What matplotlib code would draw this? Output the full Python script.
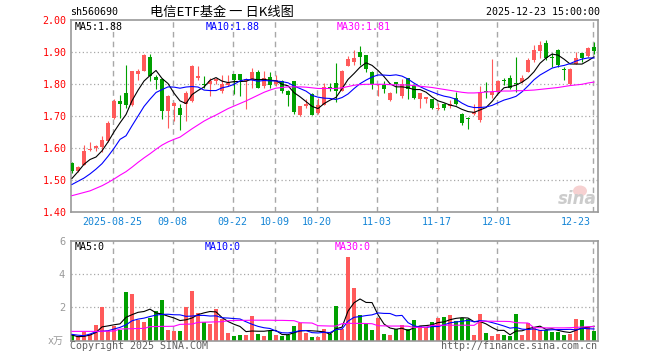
import numpy as np
import pandas as pd
import matplotlib
matplotlib.use("Agg")
import matplotlib.pyplot as plt
from matplotlib.patches import Ellipse

W, H = 660, 360

# daily candles, 2025-08-14 .. 2025-12-23 (88 trading days)
open_ = [1.554, 1.530, 1.549, 1.595, 1.601, 1.604, 1.622, 1.695, 1.748, 1.773,
         1.734, 1.832, 1.843, 1.884, 1.822, 1.815, 1.716, 1.731, 1.726, 1.739,
         1.747, 1.820, 1.800, 1.800, 1.809, 1.780, 1.799, 1.832, 1.832, 1.809,
         1.812, 1.838, 1.794, 1.822, 1.800, 1.809, 1.780, 1.810, 1.703, 1.733,
         1.770, 1.710, 1.736, 1.791, 1.804, 1.780, 1.858, 1.869, 1.901, 1.891,
         1.839, 1.797, 1.797, 1.752, 1.807, 1.763, 1.820, 1.794, 1.755, 1.755,
         1.755, 1.724, 1.737, 1.732, 1.756, 1.707, 1.695, 1.707, 1.690, 1.778,
         1.766, 1.775, 1.812, 1.819, 1.805, 1.808, 1.839, 1.876, 1.904, 1.928,
         1.886, 1.907, 1.846, 1.800, 1.865, 1.897, 1.890, 1.918]
high = [1.556, 1.546, 1.609, 1.619, 1.611, 1.639, 1.684, 1.755, 1.767, 1.861,
        1.843, 1.848, 1.895, 1.896, 1.830, 1.820, 1.768, 1.745, 1.739, 1.778,
        1.859, 1.858, 1.825, 1.820, 1.820, 1.830, 1.830, 1.832, 1.832, 1.820,
        1.850, 1.846, 1.840, 1.838, 1.830, 1.812, 1.783, 1.810, 1.732, 1.755,
        1.773, 1.757, 1.804, 1.804, 1.867, 1.846, 1.890, 1.906, 1.919, 1.893,
        1.843, 1.800, 1.811, 1.776, 1.807, 1.818, 1.820, 1.800, 1.773, 1.760,
        1.755, 1.742, 1.743, 1.751, 1.775, 1.711, 1.699, 1.740, 1.795, 1.806,
        1.879, 1.813, 1.820, 1.829, 1.886, 1.829, 1.881, 1.923, 1.935, 1.938,
        1.897, 1.910, 1.855, 1.850, 1.900, 1.899, 1.918, 1.931]
low = [1.522, 1.526, 1.547, 1.592, 1.593, 1.589, 1.620, 1.693, 1.694, 1.726,
       1.732, 1.815, 1.841, 1.811, 1.786, 1.693, 1.664, 1.686, 1.658, 1.686,
       1.745, 1.815, 1.790, 1.763, 1.800, 1.773, 1.794, 1.770, 1.762, 1.724,
       1.788, 1.787, 1.790, 1.789, 1.794, 1.773, 1.731, 1.707, 1.700, 1.726,
       1.703, 1.707, 1.734, 1.778, 1.745, 1.778, 1.856, 1.861, 1.861, 1.839,
       1.786, 1.762, 1.773, 1.749, 1.773, 1.757, 1.755, 1.755, 1.726, 1.742,
       1.724, 1.720, 1.720, 1.725, 1.735, 1.673, 1.659, 1.704, 1.681, 1.756,
       1.756, 1.772, 1.798, 1.785, 1.775, 1.803, 1.837, 1.871, 1.881, 1.876,
       1.855, 1.855, 1.813, 1.798, 1.862, 1.871, 1.886, 1.894]
close = [1.528, 1.541, 1.591, 1.598, 1.606, 1.625, 1.679, 1.749, 1.739, 1.736,
         1.841, 1.842, 1.893, 1.825, 1.815, 1.716, 1.763, 1.742, 1.705, 1.773,
         1.856, 1.827, 1.797, 1.810, 1.815, 1.801, 1.804, 1.812, 1.812, 1.818,
         1.838, 1.790, 1.820, 1.797, 1.812, 1.780, 1.768, 1.713, 1.732, 1.737,
         1.705, 1.734, 1.790, 1.786, 1.780, 1.841, 1.879, 1.882, 1.885, 1.849,
         1.801, 1.799, 1.786, 1.773, 1.801, 1.801, 1.786, 1.757, 1.773, 1.760,
         1.726, 1.726, 1.727, 1.737, 1.738, 1.680, 1.692, 1.714, 1.775, 1.776,
         1.775, 1.810, 1.810, 1.790, 1.802, 1.821, 1.876, 1.907, 1.923, 1.883,
         1.883, 1.860, 1.844, 1.848, 1.881, 1.883, 1.912, 1.904]
# volume, x万
volume = [0.34, 0.26, 0.54, 0.39, 0.94, 2.01, 0.56, 0.88, 0.66, 2.91,
          2.80, 1.26, 1.13, 1.37, 1.78, 2.44, 0.64, 0.59, 0.59, 2.01,
          2.98, 1.66, 1.11, 1.00, 1.89, 1.29, 0.47, 0.28, 0.34, 0.34,
          1.48, 0.40, 0.28, 0.56, 0.34, 0.28, 0.34, 0.88, 1.09, 0.45,
          0.21, 0.21, 0.69, 0.40, 2.08, 0.68, 5.04, 3.18, 1.54, 1.04,
          0.64, 1.38, 0.40, 0.34, 0.68, 0.94, 0.68, 1.24, 0.88, 0.80,
          1.14, 1.38, 1.44, 1.54, 1.20, 1.34, 1.28, 0.34, 1.60, 0.48,
          0.28, 0.40, 0.34, 0.28, 1.60, 0.34, 1.04, 0.74, 0.64, 0.64,
          0.54, 0.54, 0.34, 0.40, 1.30, 1.24, 0.80, 0.60]

# moving averages: start of window lies before the first shown day
ma5_head = [1.506, 1.527, 1.550, 1.565]
ma10_head = [1.487, 1.497, 1.507, 1.520, 1.535, 1.552, 1.575, 1.600, 1.628]
ma30 = [1.452, 1.457, 1.462, 1.467, 1.475, 1.483, 1.493, 1.504, 1.516, 1.527,
        1.541, 1.556, 1.570, 1.583, 1.597, 1.610, 1.620, 1.628, 1.635, 1.648,
        1.661, 1.673, 1.685, 1.695, 1.704, 1.714, 1.724, 1.732, 1.740, 1.748,
        1.757, 1.766, 1.775, 1.782, 1.788, 1.790, 1.792, 1.792, 1.792, 1.791,
        1.789, 1.787, 1.787, 1.787, 1.787, 1.789, 1.793, 1.797, 1.799, 1.800,
        1.800, 1.800, 1.800, 1.799, 1.798, 1.798, 1.798, 1.796, 1.794, 1.792,
        1.790, 1.787, 1.784, 1.781, 1.778, 1.775, 1.773, 1.773, 1.774, 1.776,
        1.777, 1.778, 1.779, 1.779, 1.780, 1.780, 1.781, 1.782, 1.784, 1.786,
        1.788, 1.790, 1.793, 1.796, 1.798, 1.800, 1.804, 1.807]
vol_ma5_head = [0.34, 0.24, 0.26, 0.34]
vol_ma10_head = [0.38, 0.33, 0.30, 0.40, 0.54, 0.57, 0.60, 0.70, 0.80]
vol_ma30 = [0.56, 0.56, 0.56, 0.56, 0.56, 0.57, 0.57, 0.58, 0.70, 0.71,
            0.72, 0.73, 0.74, 0.84, 0.85, 0.86, 0.86, 0.87, 0.98, 0.99,
            1.00, 1.10, 1.11, 1.12, 1.13, 1.14, 1.20, 1.21, 1.22, 1.22,
            1.23, 1.23, 1.23, 1.23, 1.22, 1.22, 1.21, 1.20, 1.08, 1.07,
            1.06, 0.90, 0.89, 0.88, 0.88, 1.02, 1.04, 1.04, 1.04, 1.03,
            1.02, 0.90, 0.89, 0.88, 0.88, 0.88, 0.87, 0.80, 0.80, 0.80,
            0.92, 0.92, 0.93, 0.93, 0.93, 0.93, 0.93, 0.92, 1.16, 1.17,
            1.17, 1.16, 1.16, 1.15, 1.08, 1.07, 1.06, 0.78, 0.78, 0.77,
            0.77, 0.77, 0.77, 0.78, 0.80, 0.82, 0.84, 0.85]

tick_idx = [7, 17, 27, 34, 41, 51, 61, 71, 87]
tick_labels = ["2025-08-25", "09-08", "09-22", "10-09", "10-20",
               "11-03", "11-17", "12-01", "12-23"]

RED = "#FF5A5A"
GREEN = "#00A000"
GRID = "#A8A8A8"
FRAME = "#999999"

plt.rcParams["font.family"] = ["DejaVu Sans Mono", "Noto Sans CJK SC"]


def ma(values, n, head):
    s = pd.Series(values).rolling(n).mean()
    s.iloc[:len(head)] = head
    return s.values


def px_axes(fig, left, top, right, bottom):
    return fig.add_axes([left / W, 1 - bottom / H, (right - left) / W, (bottom - top) / H])


x = np.arange(len(close))
o, h, l, c = map(np.array, (open_, high, low, close))
up = c >= o
colors = np.where(up, RED, GREEN)
xlim = (-0.22, 87.58)
grid_x = [i - 0.22 for i in tick_idx]

fig = plt.figure(figsize=(W / 100, H / 100), dpi=100)

# ---- price panel
ax = px_axes(fig, 70.7, 20.3, 597.5, 212.3)
ax.set_xlim(*xlim)
ax.set_ylim(1.40, 2.00)
for gx in grid_x:
    ax.axvline(gx, color=GRID, lw=1, ls=(0, (4, 3)), zorder=0)
for gy in [1.5, 1.6, 1.7, 1.8, 1.9]:
    ax.axhline(gy, color=GRID, lw=0.9, ls=(0, (1, 2)), zorder=0)

ax.vlines(x, l, h, colors=colors, lw=0.8, zorder=2)
ax.bar(x, np.maximum(np.abs(c - o), 0.0025), bottom=np.minimum(o, c),
       width=0.68, color=colors, linewidth=0, zorder=3)
ax.plot(x, ma(close, 5, ma5_head), color="black", lw=0.8, zorder=4)
ax.plot(x, ma(close, 10, ma10_head), color="#0000FF", lw=0.8, zorder=4)
ax.plot(x, ma30, color="#FF00FF", lw=0.8, zorder=4)

ax.set_yticks([1.4, 1.5, 1.6, 1.7, 1.8, 1.9, 2.0])
ax.set_yticklabels(["%.2f" % v for v in [1.4, 1.5, 1.6, 1.7, 1.8, 1.9, 2.0]])
ax.tick_params(axis="y", length=0, pad=3, labelcolor="#FF0000", labelsize=7.2)
ax.set_xticks([])
for sp in ax.spines.values():
    sp.set_color(FRAME)
    sp.set_linewidth(1.2)

for gx, lab in zip(grid_x, tick_labels):
    ha = "center"
    if lab == tick_labels[-1]:
        ha = "right"
        gx -= 0.3
    ax.text(gx, -0.048, lab, transform=ax.get_xaxis_transform(), ha=ha, va="center",
            fontsize=7.2, color="#1485D6")

for txt, xp, col in [("MA5:1.88", 75, "black"), ("MA10:1.88", 206, "#0000FF"),
                     ("MA30:1.81", 337, "#FF00FF")]:
    fig.text(xp / W, 1 - 26.7 / H, txt, fontsize=7.2, color=col, va="center")

# ---- volume panel
av = px_axes(fig, 70.7, 240.7, 597.5, 340.7)
av.set_xlim(*xlim)
av.set_ylim(0, 6)
for gx in grid_x:
    av.axvline(gx, color=GRID, lw=1, ls=(0, (4, 3)), zorder=0)
for gy in [2, 4]:
    av.axhline(gy, color=GRID, lw=0.9, ls=(0, (1, 2)), zorder=0)
av.bar(x, volume, width=0.8, color=colors, linewidth=0, zorder=2)
av.plot(x, ma(volume, 5, vol_ma5_head), color="black", lw=0.8, zorder=4)
av.plot(x, ma(volume, 10, vol_ma10_head), color="#0000FF", lw=0.8, zorder=4)
av.plot(x, vol_ma30, color="#FF00FF", lw=0.8, zorder=4)
av.set_yticks([2, 4, 6])
av.set_yticklabels(["2", "4", "6"])
av.tick_params(axis="y", length=0, pad=4, labelcolor="#999999", labelsize=7.5)
av.set_xticks([])
for sp in av.spines.values():
    sp.set_color(FRAME)
    sp.set_linewidth(1.2)

for txt, xp, col in [("MA5:0", 75, "black"), ("MA10:0", 205, "#0000FF"),
                     ("MA30:0", 335, "#FF00FF")]:
    fig.text(xp / W, 1 - 246.5 / H, txt, fontsize=7.2, color=col, va="center")

fig.text(64 / W, 1 - 341 / H, "x万", fontsize=7.2, color="#999999", ha="right", va="center")

# ---- header and footer
fig.text(70 / W, 1 - 12 / H, "sh560690", fontsize=7.2, color="black", va="center")
fig.text(150 / W, 1 - 12 / H, "电信ETF基金 一 日K线图", fontsize=9.5, color="black",
         va="center", family=["Noto Sans CJK SC", "DejaVu Sans"])
fig.text(600 / W, 1 - 12 / H, "2025-12-23 15:00:00", fontsize=7.2, color="black",
         ha="right", va="center")
fig.text(70 / W, 1 - 346 / H, "Copyright 2025 SINA.COM", fontsize=7.2, color="#606060",
         va="center")
fig.text(597 / W, 1 - 346 / H, "http://finance.sina.com.cn", fontsize=7.2, color="#606060",
         ha="right", va="center")

# sina watermark
fig.add_artist(Ellipse((580 / W, 1 - 191 / H), 14 / W, 11 / H, transform=fig.transFigure,
                       facecolor="#F4C6C6", edgecolor="none", alpha=0.8))
fig.text(597 / W, 1 - 208 / H, "sina", fontsize=12, fontweight="bold", style="italic",
         color="#CCCCCC", ha="right", va="bottom", family="DejaVu Sans")

fig.savefig("out.png", dpi=100)
